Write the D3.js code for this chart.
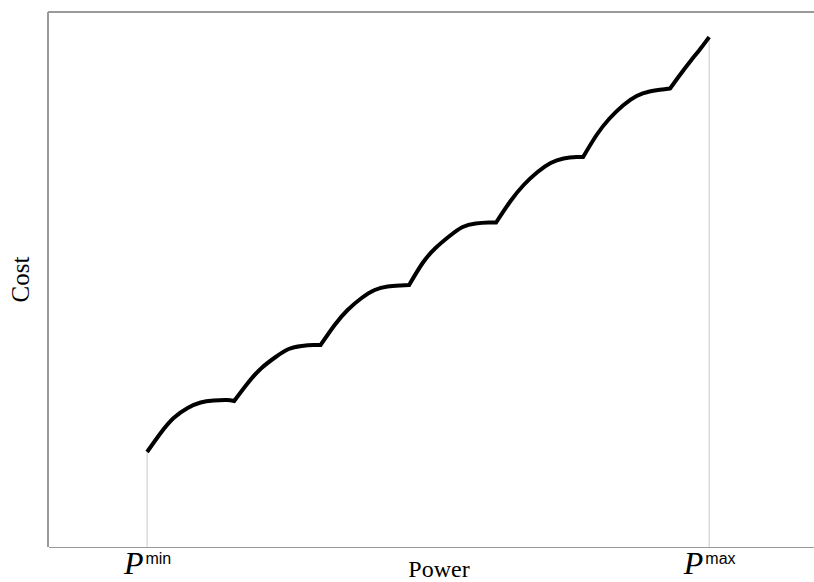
<!DOCTYPE html>
<html>
<head>
<meta charset="utf-8">
<script src="https://cdn.jsdelivr.net/npm/d3@7/dist/d3.min.js"></script>
<style>
  html, body { margin: 0; padding: 0; background: #fff; }
  svg { display: block; }
</style>
</head>
<body>
<svg id="chart" width="814" height="582"></svg>
<script>
// ---- data ----
const power = [100, 109.7, 118.9, 128.9, 138.1, 147.4, 156.6, 162.0,
               172.3, 181.5, 191.5, 200.8, 210.0, 218.5, 223.5,
               233.5, 242.7, 252.7, 262.0, 271.2, 280.4, 286.5,
               296.1, 305.3, 315.3, 324.6, 333.8, 343.1, 348.4,
               358.7, 368.0, 377.9, 387.2, 396.4, 405.7, 410.3,
               419.9, 429.1, 439.1, 448.4, 457.6, 466.9, 472.2,
               479.7, 486.8, 493.9, 500];
const cost = [950, 1140, 1290, 1390, 1445, 1465, 1470, 1460,
              1650, 1790, 1900, 1980, 2010, 2020, 2020,
              2220, 2370, 2490, 2570, 2605, 2615, 2620,
              2840, 2990, 3110, 3200, 3235, 3245, 3245,
              3460, 3620, 3750, 3840, 3885, 3900, 3900,
              4120, 4285, 4420, 4510, 4555, 4575, 4585,
              4730, 4860, 4985, 5100];
const cuspIndex = [7, 14, 21, 28, 35, 42];   // valve-point kinks
const tickValues = [100, 500];
const tickBase = ["P", "P"];
const tickSup = ["min", "max"];
const xLabel = "Power";
const yLabel = "Cost";

(function () {
  // ---- layout ----
  const mLeft = 48, mRight = 830, mTop = 12, mBottom = 547;
  const svg = d3.select("#chart");

  const x = d3.scaleLinear().domain([29.5, 586]).range([mLeft, mRight]);
  const y = d3.scaleLinear().domain([0, 5350]).range([mBottom, mTop]);

  const pts = power.map((p, i) => [p, cost[i]]);

  // frame
  const frame = svg.append("g").attr("stroke", "#9a9a9a").attr("stroke-width", 1.2)
    .attr("shape-rendering", "crispEdges");
  frame.append("line").attr("x1", mLeft).attr("x2", mLeft).attr("y1", mTop).attr("y2", mBottom);
  frame.append("line").attr("x1", mLeft).attr("x2", mRight).attr("y1", mTop).attr("y2", mTop);

  // vertical drop lines at Pmin / Pmax
  const first = pts[0], last = pts[pts.length - 1];
  [first, last].forEach(d => {
    svg.append("line")
      .attr("x1", x(d[0])).attr("x2", x(d[0]))
      .attr("y1", mBottom).attr("y2", y(d[1]))
      .attr("stroke", "#c8c8c8").attr("stroke-width", 1);
  });

  // bottom axis
  const xAxis = d3.axisBottom(x).tickValues(tickValues).tickSize(0).tickFormat("");
  const ax = svg.append("g").attr("transform", `translate(0,${mBottom})`).call(xAxis);
  ax.select(".domain").attr("stroke", "#9a9a9a").attr("stroke-width", 1.2)
    .attr("shape-rendering", "crispEdges");
  ax.selectAll(".tick").each(function (d, i) {
    const t = d3.select(this).append("text")
      .attr("y", 27).attr("fill", "#000").attr("text-anchor", "middle");
    t.append("tspan").text(tickBase[i])
      .attr("font-family", "'Liberation Serif', 'Times New Roman', serif")
      .attr("font-style", "italic").attr("font-size", 32);
    t.append("tspan").text(tickSup[i])
      .attr("dx", 2).attr("dy", -10)
      .attr("font-family", "'Liberation Sans', Arial, sans-serif")
      .attr("font-size", 16);
  });

  // curve: smooth segments between the kinks, joined into one path
  const bounds = [0, ...cuspIndex, pts.length - 1];
  const seg = d3.line().x(d => x(d[0])).y(d => y(d[1])).curve(d3.curveNatural);
  let dStr = "";
  for (let k = 0; k < bounds.length - 1; k++) {
    const s = seg(pts.slice(bounds[k], bounds[k + 1] + 1));
    dStr += k === 0 ? s : s.replace(/^M[^A-Za-z]*/, "");
  }
  svg.append("path").attr("d", dStr)
    .attr("fill", "none").attr("stroke", "#000")
    .attr("stroke-width", 4).attr("stroke-linejoin", "miter")
    .attr("stroke-linecap", "butt");

  // axis labels
  svg.append("text").text(xLabel)
    .attr("x", (mLeft + mRight) / 2).attr("y", 577)
    .attr("text-anchor", "middle")
    .attr("font-family", "'Liberation Serif', 'Times New Roman', serif")
    .attr("font-size", 24).attr("fill", "#000");
  svg.append("text").text(yLabel)
    .attr("transform", `translate(29,${(mTop + mBottom) / 2}) rotate(-90)`)
    .attr("text-anchor", "middle")
    .attr("font-family", "'Liberation Serif', 'Times New Roman', serif")
    .attr("font-size", 25).attr("fill", "#000");
})();
</script>
</body>
</html>
